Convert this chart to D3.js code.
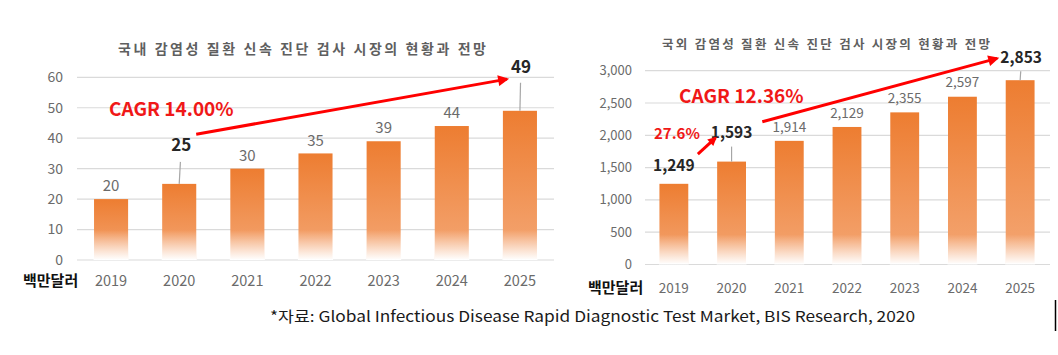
<!DOCTYPE html>
<html><head><meta charset="utf-8">
<script src="https://cdn.jsdelivr.net/npm/d3@7"></script>
<style>
html,body{margin:0;padding:0;background:#fff;}
text{font-family:"Noto Sans CJK KR","Noto Sans",sans-serif;}
</style></head>
<body>
<svg id="c" width="1058" height="355"></svg>
<script>
// ---- data ----
const years = ["2019","2020","2021","2022","2023","2024","2025"];
const domesticValues = [20,25,30,35,39,44,49];
const globalValues = [1249,1593,1914,2129,2355,2597,2853];
const domesticTicks = [0,10,20,30,40,50,60];
const globalTicks = [0,500,1000,1500,2000,2500,3000];
const domesticTitle = "국내 감염성 질환 신속 진단 검사 시장의 현황과 전망";
const globalTitle = "국외 감염성 질환 신속 진단 검사 시장의 현황과 전망";
const unitLabel = "백만달러";
const domesticCagr = "CAGR 14.00%";
const globalCagr = "CAGR 12.36%";
const globalGrowth = "27.6%";
const sourceText = "*자료: Global Infectious Disease Rapid Diagnostic Test Market, BIS Research, 2020";

const svg = d3.select("#c");
const defs = svg.append("defs");
const grad = defs.append("linearGradient").attr("id","barGrad").attr("x1",0).attr("x2",0).attr("y1",0).attr("y2",1);
grad.append("stop").attr("offset","0%").attr("stop-color","#ED7D31");
grad.append("stop").attr("offset","100%").attr("stop-color","#F4A775");
const fade = defs.append("linearGradient").attr("id","fadeGrad").attr("x1",0).attr("x2",0).attr("y1",0).attr("y2",1);
fade.append("stop").attr("offset","0%").attr("stop-color","#fff").attr("stop-opacity",0);
fade.append("stop").attr("offset","100%").attr("stop-color","#fff").attr("stop-opacity",1);
function marker(id, w, h){
  defs.append("marker").attr("id",id).attr("viewBox","0 0 10 10").attr("refX",8).attr("refY",5)
    .attr("markerWidth",w).attr("markerHeight",h).attr("markerUnits","userSpaceOnUse").attr("orient","auto")
    .append("path").attr("d","M0,0 L10,5 L0,10 z").attr("fill","#FF0000");
}
marker("arrBig",15,11);
marker("arrSmall",11,9);

function chart(cfg){
  const g = svg.append("g");
  const x = d3.scaleBand().domain(years).range(cfg.xr).paddingInner(0.5).paddingOuter(0.25);
  const y = d3.scaleLinear().domain([cfg.ticks[0], cfg.ticks[cfg.ticks.length-1]]).range(cfg.yr);
  // gridlines
  g.selectAll("line.grid").data(cfg.ticks).join("line")
    .attr("x1",cfg.xr[0]).attr("x2",cfg.xr[1]+cfg.gridExt)
    .attr("y1",d=>y(d)).attr("y2",d=>y(d))
    .attr("stroke","#DADADA").attr("stroke-width",1.2);
  // tick labels
  const fmt = d3.format(",");
  g.selectAll("text.tick").data(cfg.ticks).join("text")
    .attr("x",cfg.tickX).attr("y",d=>y(d)).attr("dy","0.35em")
    .attr("text-anchor","end").attr("font-size",cfg.tickSize).attr("fill","#6B6B6B")
    .text(d=>fmt(d));
  // bars
  g.selectAll("rect.bar").data(cfg.values).join("rect")
    .attr("x",(d,i)=>x(years[i])).attr("width",x.bandwidth())
    .attr("y",d=>y(d)).attr("height",d=>y(0)-y(d)-1)
    .attr("fill","url(#barGrad)");
  g.selectAll("rect.fade").data(cfg.values).join("rect")
    .attr("x",(d,i)=>x(years[i])-0.5).attr("width",x.bandwidth()+1)
    .attr("y",y(0)-cfg.fadeH).attr("height",cfg.fadeH)
    .attr("fill","url(#fadeGrad)");
  // year labels
  g.selectAll("text.year").data(years).join("text")
    .attr("x",d=>x(d)+x.bandwidth()/2).attr("y",cfg.yearY).attr("dy","0.35em")
    .attr("text-anchor","middle").attr("font-size",cfg.yearSize).attr("fill","#6B6B6B")
    .text(d=>d);
  // unit
  g.append("text").attr("x",cfg.unitX).attr("y",cfg.yearY).attr("dy","0.35em")
    .attr("font-size",15).attr("font-weight",700).attr("fill","#111").text(unitLabel);
  // title
  g.append("text").attr("x",cfg.titleX).attr("y",cfg.titleY).attr("dy","0.35em")
    .attr("text-anchor","middle").attr("font-size",cfg.titleSize).attr("font-weight",700)
    .attr("fill","#5F5F5F").attr("textLength",cfg.titleLen).attr("lengthAdjust","spacing")
    .text(cfg.title);
  // value labels
  cfg.values.forEach((v,i)=>{
    const cx = x(years[i])+x.bandwidth()/2;
    const em = cfg.emph[i];
    const t = g.append("text").attr("x",cx+(em?em.dx:0)).attr("y",y(v)-(em?em.off:cfg.labOff)).attr("dy","0.35em")
      .attr("text-anchor","middle").text(fmt(v));
    if(em){
      t.attr("font-size",cfg.emSize).attr("font-weight",700).attr("fill","#262626");
      if(em.lead){
        g.append("line").attr("x1",cx+em.dx*0.6).attr("x2",cx).attr("y1",y(v)-em.lead).attr("y2",y(v))
          .attr("stroke","#A6A6A6").attr("stroke-width",1.2);
      }
    } else {
      t.attr("font-size",cfg.labSize).attr("fill","#6B6B6B");
    }
  });
  return {x,y,g};
}

const L = chart({
  values:domesticValues, ticks:domesticTicks, title:domesticTitle,
  xr:[77,554], yr:[260,77.3], gridExt:0, tickX:63, tickSize:14,
  yearY:281, yearSize:14.5, unitX:23, titleX:302, titleY:49, titleSize:14, titleLen:368,
  fadeH:30, labOff:13, labSize:15, emSize:17,
  emph:{1:{off:39,dx:2,lead:22}, 6:{off:44,dx:1,lead:28}}
});
const R = chart({
  values:globalValues, ticks:globalTicks, title:globalTitle,
  xr:[645,1049], yr:[264.5,70.7], gridExt:1, tickX:632, tickSize:13,
  yearY:288, yearSize:13.5, unitX:588, titleX:826, titleY:45, titleSize:12.5, titleLen:328,
  fadeH:30, labOff:14, labSize:13.5, emSize:15.5,
  emph:{0:{off:18,dx:0,lead:0}, 1:{off:29,dx:0,lead:15}, 6:{off:23,dx:1,lead:9}}
});

// CAGR annotations (left)
{
  const {x,y,g} = L;
  const c2020 = x("2020")+x.bandwidth()/2, c2025 = x("2025")+x.bandwidth()/2;
  g.append("line").attr("x1",c2020+17).attr("y1",y(41.3)).attr("x2",c2025-13).attr("y2",y(59.4))
    .attr("stroke","#FF0000").attr("stroke-width",3).attr("marker-end","url(#arrBig)");
  g.append("text").attr("x",109).attr("y",y(49.5)).attr("dy","0.35em").attr("font-size",19)
    .attr("font-weight",700).attr("fill","#F01818").text(domesticCagr);
}
// right
{
  const {x,y,g} = R;
  const c2019 = x("2019")+x.bandwidth()/2, c2020 = x("2020")+x.bandwidth()/2, c2021 = x("2021")+x.bandwidth()/2, c2025 = x("2025")+x.bandwidth()/2;
  g.append("line").attr("x1",c2021-27).attr("y1",y(2210)).attr("x2",c2025-23).attr("y2",y(3190))
    .attr("stroke","#FF0000").attr("stroke-width",3).attr("marker-end","url(#arrBig)");
  g.append("line").attr("x1",c2019+24).attr("y1",y(1710)).attr("x2",c2020-16).attr("y2",y(1960))
    .attr("stroke","#FF0000").attr("stroke-width",3).attr("marker-end","url(#arrSmall)");
  g.append("text").attr("x",679).attr("y",y(2600)).attr("dy","0.35em").attr("font-size",19)
    .attr("font-weight",700).attr("fill","#F01818").text(globalCagr);
  g.append("text").attr("x",654).attr("y",y(2020)).attr("dy","0.35em").attr("font-size",15)
    .attr("font-weight",700).attr("fill","#F01818").text(globalGrowth);
}

// source
svg.append("text").attr("x",270).attr("y",317).attr("dy","0.35em").attr("font-size",15)
  .attr("fill","#1a1a1a").attr("textLength",645).attr("lengthAdjust","spacingAndGlyphs").text(sourceText);
// right-edge border fragment
svg.append("line").attr("x1",1055.5).attr("x2",1055.5).attr("y1",300).attr("y2",331).attr("stroke","#000").attr("stroke-width",1.5);
</script>
</body></html>
